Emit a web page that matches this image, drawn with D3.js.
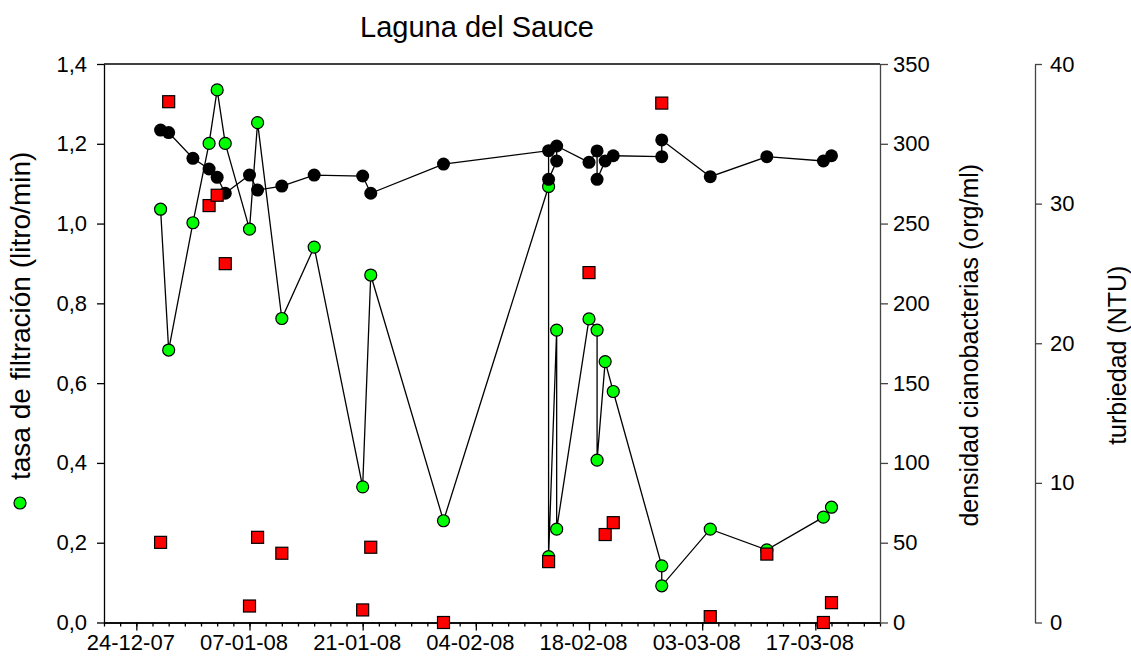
<!DOCTYPE html>
<html>
<head>
<meta charset="utf-8">
<script src="https://cdn.jsdelivr.net/npm/d3@7"></script>
<style>
  body { margin: 0; background: #fff; }
  text { font-family: "Liberation Sans", Arial, sans-serif; fill: #000; }
</style>
</head>
<body>
<svg id="chart" width="1131" height="665"></svg>
<script>
const parseDate = d3.timeParse("%d-%m-%y")

// tasa de filtración (litro/min) - green circles
const filtDates = ["27-12-07","28-12-07","31-12-07","02-01-08","03-01-08","04-01-08","07-01-08","08-01-08",
  "11-01-08","15-01-08","21-01-08","22-01-08","31-01-08","13-02-08","13-02-08","14-02-08","14-02-08",
  "18-02-08","19-02-08","19-02-08","20-02-08","21-02-08","27-02-08","27-02-08","04-03-08","11-03-08",
  "18-03-08","19-03-08"]
const filtValues = [1.036, 0.683, 1.002, 1.201, 1.335, 1.201, 0.986, 1.253,
  0.762, 0.941, 0.340, 0.871, 0.255, 1.093, 0.165, 0.733, 0.234,
  0.761, 0.733, 0.407, 0.654, 0.579, 0.142, 0.092, 0.234, 0.182,
  0.264, 0.289]

// densidad cianobacterias (org/ml) - black circles
const cyanoDates = filtDates
const cyanoValues = [308.6, 307, 290.9, 284.2, 279, 269, 280.4, 271,
  273.5, 280.4, 279.8, 269, 287.3, 295.7, 277.7, 289.2, 298.6,
  288.4, 295.5, 277.7, 289.2, 292.5, 291.9, 302.4, 279.4, 291.9,
  289.2, 292.5]

// turbiedad (NTU) - red squares
const turbDates = ["27-12-07","28-12-07","02-01-08","03-01-08","04-01-08","07-01-08","08-01-08","11-01-08",
  "21-01-08","22-01-08","31-01-08","13-02-08","18-02-08","20-02-08","21-02-08","27-02-08","04-03-08",
  "11-03-08","18-03-08","19-03-08"]
const turbValues = [5.74, 37.3, 29.86, 30.6, 25.7, 1.18, 6.1, 4.96,
  0.9, 5.39, 0, 4.36, 25.06, 6.3, 7.15, 37.2, 0.42,
  4.9, 0, 1.42]

const dateTicks = ["24-12-07","07-01-08","21-01-08","04-02-08","18-02-08","03-03-08","17-03-08"]
const filtTicks = [0, 0.2, 0.4, 0.6, 0.8, 1.0, 1.2, 1.4]
const cyanoTicks = [0, 50, 100, 150, 200, 250, 300, 350]
const turbTicks = [0, 10, 20, 30, 40]

const plotLeft = 104, plotRight = 880, plotTop = 64, plotBottom = 622.5

const svg = d3.select("#chart")

const xStart = parseDate("20-12-07"), xEnd = parseDate("25-03-08")
const x = d3.scaleTime().domain([xStart, xEnd]).range([plotLeft, plotRight])
const yF = d3.scaleLinear().domain([0, 1.4]).range([plotBottom, plotTop])
const yC = d3.scaleLinear().domain([0, 350]).range([plotBottom, plotTop])
const yT = d3.scaleLinear().domain([0, 40]).range([plotBottom, plotTop])

const comma = d => d3.format(".1f")(d).replace(".", ",")

// minor ticks every 2 days
const minorTicks = d3.range(0, d3.timeDay.count(xStart, xEnd) + 1, 2).map(i => d3.timeDay.offset(xStart, i))

svg.append("g")
  .attr("class", "axis")
  .attr("transform", `translate(0,${plotBottom})`)
  .call(d3.axisBottom(x).tickValues(minorTicks).tickSize(4).tickFormat("").tickSizeOuter(0))

const xAxis = svg.append("g")
  .attr("class", "axis")
  .attr("transform", `translate(0,${plotBottom})`)
  .call(d3.axisBottom(x).tickValues(dateTicks.map(parseDate)).tickSize(8)
    .tickPadding(4).tickFormat(d3.timeFormat("%d-%m-%y")).tickSizeOuter(0))
xAxis.selectAll("text").attr("dx", -6)

// left axis
svg.append("g")
  .attr("class", "axis")
  .attr("transform", `translate(${plotLeft},0)`)
  .call(d3.axisLeft(yF).tickValues(filtTicks).tickSize(7).tickPadding(10).tickFormat(comma).tickSizeOuter(0))

// right axis 1
svg.append("g")
  .attr("class", "axis axis-r")
  .attr("transform", `translate(${plotRight},0)`)
  .call(d3.axisRight(yC).tickValues(cyanoTicks).tickSize(8).tickPadding(5).tickSizeOuter(0))

// right axis 2
svg.append("g")
  .attr("class", "axis axis-r")
  .attr("transform", "translate(1035,0)")
  .call(d3.axisRight(yT).tickValues(turbTicks).tickSize(7).tickPadding(8).tickSizeOuter(0))

svg.append("line")
  .attr("x1", plotLeft).attr("x2", plotRight)
  .attr("y1", plotTop).attr("y2", plotTop)
  .attr("stroke", "#000").attr("stroke-width", 1.3)

svg.selectAll(".axis path, .axis line").attr("stroke", "#000").attr("stroke-width", 1.3)
svg.selectAll(".axis-r path, .axis-r line").attr("stroke", "#444")
svg.selectAll(".axis text").style("font-size", "22px").attr("fill", "#000")

const filtData = filtDates.map((d, i) => ({ date: parseDate(d), value: filtValues[i] }))
const cyanoData = cyanoDates.map((d, i) => ({ date: parseDate(d), value: cyanoValues[i] }))
const turbData = turbDates.map((d, i) => ({ date: parseDate(d), value: turbValues[i] }))

// green series
svg.append("path")
  .datum(filtData)
  .attr("fill", "none")
  .attr("stroke", "#000")
  .attr("stroke-width", 1.3)
  .attr("d", d3.line().x(d => x(d.date)).y(d => yF(d.value)))

svg.selectAll(".filt")
  .data(filtData)
  .enter()
  .append("circle")
  .attr("class", "filt")
  .attr("cx", d => x(d.date))
  .attr("cy", d => yF(d.value))
  .attr("r", 6)
  .attr("fill", "#00ff00")
  .attr("stroke", "#000")
  .attr("stroke-width", 1.2)

// black series
svg.append("path")
  .datum(cyanoData)
  .attr("fill", "none")
  .attr("stroke", "#000")
  .attr("stroke-width", 1.3)
  .attr("d", d3.line().x(d => x(d.date)).y(d => yC(d.value)))

svg.selectAll(".cyano")
  .data(cyanoData)
  .enter()
  .append("circle")
  .attr("class", "cyano")
  .attr("cx", d => x(d.date))
  .attr("cy", d => yC(d.value))
  .attr("r", 6.5)
  .attr("fill", "#000")

// red squares
const sq = 12
svg.selectAll(".turb")
  .data(turbData)
  .enter()
  .append("rect")
  .attr("class", "turb")
  .attr("x", d => x(d.date) - sq / 2)
  .attr("y", d => yT(d.value) - sq / 2)
  .attr("width", sq)
  .attr("height", sq)
  .attr("fill", "#ff0000")
  .attr("stroke", "#000")
  .attr("stroke-width", 1.2)

// titles
svg.append("text")
  .attr("x", 477)
  .attr("y", 37)
  .attr("text-anchor", "middle")
  .style("font-size", "29px")
  .text("Laguna del Sauce")

svg.append("circle")
  .attr("cx", 20).attr("cy", 503).attr("r", 6)
  .attr("fill", "#00ff00").attr("stroke", "#000").attr("stroke-width", 1.2)

svg.append("text")
  .attr("transform", "translate(30,480) rotate(-90)")
  .attr("text-anchor", "start")
  .style("font-size", "28px")
  .text("tasa de filtración (litro/min)")

svg.append("text")
  .attr("transform", `translate(978,${(plotTop + plotBottom) / 2 + 2}) rotate(-90)`)
  .attr("text-anchor", "middle")
  .style("font-size", "25px")
  .text("densidad cianobacterias (org/ml)")

svg.append("text")
  .attr("transform", `translate(1126,${(plotTop + plotBottom) / 2 + 12}) rotate(-90)`)
  .attr("text-anchor", "middle")
  .style("font-size", "25px")
  .text("turbiedad (NTU)")
</script>
</body>
</html>
